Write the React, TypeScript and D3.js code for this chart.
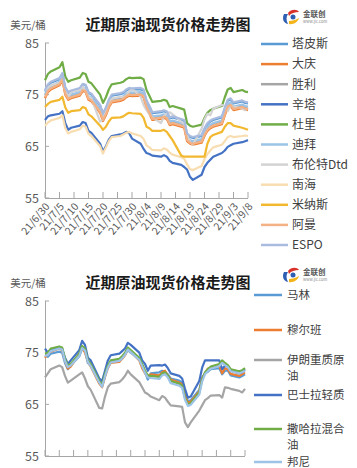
import React from "react";
import * as d3 from "d3";

const dates = ["2021-06-30","2021-07-01","2021-07-02","2021-07-05","2021-07-06","2021-07-07","2021-07-08","2021-07-09","2021-07-12","2021-07-13","2021-07-14","2021-07-15","2021-07-16","2021-07-19","2021-07-20","2021-07-21","2021-07-22","2021-07-23","2021-07-26","2021-07-27","2021-07-28","2021-07-29","2021-07-30","2021-08-02","2021-08-03","2021-08-04","2021-08-05","2021-08-06","2021-08-09","2021-08-10","2021-08-11","2021-08-12","2021-08-13","2021-08-16","2021-08-17","2021-08-18","2021-08-19","2021-08-20","2021-08-23","2021-08-24","2021-08-25","2021-08-26","2021-08-27","2021-08-30","2021-08-31","2021-09-01","2021-09-02","2021-09-03","2021-09-06","2021-09-07","2021-09-08"];

const tickLabels = ["21/6/30","21/7/5","21/7/10","21/7/15","21/7/20","21/7/25","21/7/30","21/8/4","21/8/9","21/8/14","21/8/19","21/8/24","21/8/29","21/9/3","21/9/8"];
const yTicks = [55, 65, 75, 85];

// top chart series
const tapis = [75.6,76.6,77.3,78.0,79.0,76.3,75.4,75.6,76.0,77.0,76.8,75.4,75.0,72.9,71.3,72.3,73.8,74.8,75.1,75.3,75.8,76.1,76.0,76.0,75.8,73.7,72.7,71.4,71.6,71.8,71.6,70.4,70.6,70.1,69.9,67.3,66.8,66.6,67.0,68.3,69.3,69.8,70.1,70.6,72.3,73.8,74.1,73.3,73.7,73.4,73.3];
const daqing = [74.3,75.5,76.0,76.8,77.8,75.0,74.0,74.3,74.8,75.7,75.5,74.0,73.7,71.5,69.9,71.0,72.5,73.5,73.8,74.0,74.5,74.8,74.7,74.8,74.5,72.4,71.3,70.1,70.3,70.5,70.3,69.1,69.3,68.8,68.6,66.0,65.5,65.3,65.7,67.0,68.0,68.5,68.8,69.3,71.0,72.5,72.8,72.0,72.4,72.1,72.0];
const shengli = [74.9,75.9,76.5,77.3,78.2,75.5,74.6,74.8,75.3,76.2,76.0,74.5,74.2,72.0,70.5,71.5,73.0,74.0,74.3,74.5,75.0,75.3,75.2,75.3,75.0,72.9,71.8,70.6,70.8,71.0,70.8,69.6,69.8,69.3,69.1,66.5,66.0,65.8,66.2,67.5,68.5,69.0,69.3,69.8,71.5,73.0,73.3,72.5,72.9,72.6,72.5];
const sinta = [70.1,70.8,71.0,71.3,71.8,69.5,68.2,68.6,69.0,69.7,69.5,68.0,67.6,65.5,64.0,65.0,66.3,67.0,67.3,67.5,67.8,67.6,66.5,65.5,64.5,63.7,63.5,63.2,63.0,63.3,63.0,62.2,61.8,61.4,61.0,60.5,59.1,58.5,59.5,61.0,61.8,62.4,63.0,63.7,64.2,64.9,65.2,65.5,65.8,66.0,66.2];
const duri = [77.8,79.0,79.5,80.3,81.3,78.5,77.5,77.8,78.3,79.2,79.0,77.5,77.2,75.0,73.4,74.5,76.0,77.0,77.3,77.5,78.0,78.3,78.2,78.3,78.0,75.9,74.8,73.6,73.8,74.0,73.8,72.6,72.8,72.3,72.1,69.5,69.0,68.8,69.2,70.5,71.5,72.0,72.3,72.8,74.5,76.0,76.3,75.5,75.9,75.6,75.5];
const dubai = [75.0,76.2,76.7,77.5,78.5,75.7,74.7,75.0,75.5,76.4,76.2,74.7,74.4,72.2,70.6,71.7,73.2,74.2,74.5,74.7,75.2,75.5,75.4,75.5,75.2,73.1,72.0,70.8,71.0,71.2,71.0,69.8,70.0,69.5,69.3,66.7,66.2,66.0,66.4,67.7,68.7,69.2,69.5,70.0,71.7,73.2,73.5,72.7,73.1,72.8,72.7];
const brent = [75.8,76.4,76.8,77.3,78.0,75.8,74.5,75.6,75.9,76.6,75.6,74.6,74.3,69.8,70.2,71.8,73.2,74.2,74.6,74.5,74.8,75.6,76.2,74.6,73.0,72.0,71.2,70.6,69.5,70.8,71.4,71.6,71.2,69.8,69.4,67.2,65.8,65.3,68.4,70.2,71.3,71.0,72.3,73.0,72.8,71.8,72.9,72.7,72.3,72.0,72.4];
const nanhai = [69.0,69.6,70.0,70.5,71.0,68.5,67.5,67.8,68.3,69.0,68.8,67.4,67.0,65.0,63.6,64.8,66.0,66.8,67.0,67.3,67.6,67.8,67.5,67.0,66.4,65.2,64.8,64.3,64.2,64.6,64.4,63.8,63.4,62.9,62.6,61.5,60.6,60.4,61.2,62.5,63.5,64.2,64.8,65.3,66.0,66.8,67.0,66.8,67.0,67.1,67.0];
const minas = [72.6,73.2,73.6,74.0,74.6,72.5,71.5,71.8,72.0,72.6,72.4,71.2,70.8,69.0,68.2,68.8,69.8,70.5,70.6,70.8,71.2,71.5,71.4,71.3,70.5,68.8,68.5,68.0,68.0,68.2,67.8,67.0,66.2,63.2,63.0,63.0,63.0,63.0,63.0,63.0,65.5,66.8,67.2,67.8,68.8,69.5,69.5,69.0,68.6,68.4,68.2];
const oman = [74.5,75.7,76.2,77.0,78.0,75.2,74.2,74.5,75.0,75.9,75.7,74.2,73.9,71.7,70.1,71.2,72.7,73.7,74.0,74.2,74.7,75.0,74.9,75.0,74.7,72.6,71.5,70.3,70.5,70.7,70.5,69.3,69.5,69.0,68.8,66.2,65.7,65.5,65.9,67.2,68.2,68.7,69.0,69.5,71.2,72.7,73.0,72.2,72.6,72.3,72.2];
const espo = [75.9,77.0,77.5,78.2,79.2,76.4,75.5,75.8,76.3,77.1,76.9,75.5,75.2,73.0,71.4,72.5,74.0,75.0,75.3,75.5,76.0,76.3,76.2,76.3,76.0,73.9,72.8,71.6,71.8,72.0,71.8,70.6,70.8,70.3,70.1,67.5,67.0,66.8,67.2,68.5,69.5,70.0,70.3,70.8,72.5,74.0,74.3,73.5,73.9,73.6,73.5];

// bottom chart series
const marine = [74.5,74.2,74.8,75.2,75.0,73.0,71.8,72.5,74.3,75.8,75.3,73.0,72.5,69.3,68.6,70.5,72.3,73.3,73.5,74.0,74.6,75.5,75.0,73.8,72.5,71.2,69.8,71.0,71.2,71.5,71.3,70.8,70.0,69.6,69.2,67.0,65.6,65.8,67.8,70.2,71.0,71.3,71.8,72.0,70.8,71.5,71.5,70.6,70.2,70.5,70.8];
const murban = [74.0,74.8,75.2,75.8,75.5,73.5,71.9,72.3,74.8,76.0,75.0,73.3,72.3,69.0,68.3,70.3,72.0,73.0,73.2,73.8,74.5,75.8,75.2,73.5,72.0,71.0,70.5,70.8,70.6,71.2,71.5,70.5,69.8,69.2,68.9,66.8,65.3,65.5,67.5,70.0,71.0,71.9,72.0,72.5,71.0,72.0,71.8,70.9,70.5,70.8,71.2];
const iranHeavy = [70.2,71.0,71.8,72.5,72.2,70.5,69.2,69.6,70.8,71.2,70.0,68.5,67.8,64.3,64.2,66.5,68.3,69.0,69.3,69.8,70.5,71.5,70.8,69.3,68.3,67.3,67.0,66.5,65.8,66.6,66.3,65.5,64.8,64.6,64.5,61.5,60.6,61.5,63.8,64.8,65.8,66.2,66.7,66.8,66.3,68.3,68.2,68.0,67.6,67.3,68.0];
const basrah = [75.8,75.0,75.5,76.0,75.8,74.0,72.8,73.5,75.5,77.3,76.5,74.0,73.5,70.0,69.5,71.5,73.5,74.5,74.8,75.3,75.8,76.9,76.5,75.0,73.5,72.8,71.5,72.5,72.6,72.5,72.7,72.0,71.0,70.5,70.0,68.0,66.3,66.5,69.5,72.1,73.5,73.5,73.5,73.5,71.8,72.5,72.3,71.5,71.0,71.2,71.8];
const saharan = [74.8,75.0,75.8,76.2,76.0,73.8,72.5,72.8,74.8,76.3,75.8,73.5,72.8,69.5,68.8,70.8,72.5,73.5,73.8,74.3,75.0,76.0,75.5,74.0,72.8,71.5,70.6,70.5,70.3,71.0,71.2,70.6,69.5,69.0,68.6,66.3,65.0,65.2,67.3,69.8,71.2,71.8,72.3,72.8,73.5,73.0,72.6,71.8,71.4,71.6,72.0];
const bonny = [74.3,74.6,75.3,75.8,75.6,73.4,72.2,72.5,74.4,75.9,75.4,73.2,72.4,69.2,68.4,70.4,72.1,73.1,73.4,73.9,74.6,75.6,75.1,73.6,72.4,71.1,70.2,70.1,69.9,70.6,70.8,70.2,69.1,68.6,68.2,65.9,64.7,64.9,66.9,69.4,70.8,71.4,71.9,72.4,73.0,72.6,72.2,71.4,71.0,71.2,71.5];

const topNames = ["塔皮斯","大庆","胜利","辛塔","杜里","迪拜","布伦特Dtd","南海","米纳斯","阿曼","ESPO"];
const topValues = [tapis, daqing, shengli, sinta, duri, dubai, brent, nanhai, minas, oman, espo];
const topColors = ["#5B9BD5","#ED7D31","#A5A5A5","#4472C4","#70AD47","#9DC3E6","#D3D3D3","#F8DDB0","#F2B830","#F4B183","#A9BCE0"];

const botNames = [["马林"],["穆尔班"],["伊朗重质原","油"],["巴士拉轻质"],["撒哈拉混合","油"],["邦尼"]];
const botValues = [marine, murban, iranHeavy, basrah, saharan, bonny];
const botColors = ["#5B9BD5","#ED7D31","#A5A5A5","#4472C4","#70AD47","#9DC3E6"];

const FONT = "'Noto Sans CJK SC', 'Liberation Sans', sans-serif";
const parseDate = d3.timeParse("%Y-%m-%d");
const parseTick = d3.timeParse("%y/%m/%d");
const dateObjs = dates.map((d) => parseDate(d) as Date);
const tickDates = tickLabels.map((t) => parseTick(t) as Date);

function Logo({ x, y }: { x: number; y: number }) {
  return (
    <g transform={`translate(${x},${y})`}>
      <path d="M2,5 C0,9 1,14 6,15 C4,11 4,8 6,5 Z" fill="#2F5FB3" />
      <path d="M6,4 C9,0 15,0 17,3 C13,3 9,4 7,7 Z" fill="#D8322B" />
      <path d="M7,15 C11,16 16,13 17,9 C14,11 10,12 7,12 Z" fill="#F2B418" />
      <circle cx={11} cy={8} r={2.5} fill="#2F5FB3" />
      <text x={21} y={8} fontSize={7.5} fontFamily={FONT} fill="#555" fontWeight={700}>金联创</text>
      <text x={21} y={14} fontSize={4} fontFamily={FONT} fill="#888">www.jlc.com</text>
    </g>
  );
}

function Chart({ offY, xEnd, values, colors, showXLabels }: any) {
  const x = d3.scaleTime().domain([tickDates[0], tickDates[tickDates.length - 1]]).range([45, xEnd]);
  const y = d3.scaleLinear().domain([55, 85]).range([198 + offY, 43 + offY]);
  const line = d3.line<number>().x((_, i) => x(dateObjs[i])).y((v) => y(v));
  return (
    <g>
      <text x={28} y={29 + offY} fontSize={10.5} fontFamily={FONT} fill="#595959" textAnchor="middle">美元/桶</text>
      <text x={168} y={30 + offY} fontSize={15} fontWeight={700} fontFamily={FONT} fill="#1a1a1a" textAnchor="middle">近期原油现货价格走势图</text>
      <Logo x={282} y={9 + offY} />
      {yTicks.map((t) => (
        <g key={t}>
          <text x={39} y={y(t) + 4.5} fontSize={12.5} fontFamily={FONT} fill="#595959" textAnchor="end">{t}</text>
          <line x1={45} x2={49} y1={y(t)} y2={y(t)} stroke="#A6A6A6" />
        </g>
      ))}
      <line x1={45.5} x2={45.5} y1={y(85)} y2={y(55)} stroke="#A6A6A6" />
      <line x1={45} x2={xEnd} y1={y(55) + 0.5} y2={y(55) + 0.5} stroke="#A6A6A6" />
      {tickDates.map((d, i) => (
        <line key={i} x1={x(d)} x2={x(d)} y1={y(55)} y2={y(55) - 6} stroke="#A6A6A6" />
      ))}
      {showXLabels && tickDates.map((d, i) => (
        <text key={i} transform={`translate(${x(d) + 3},${y(55) + 7}) rotate(-50)`} fontSize={10.5} fontFamily={FONT} fill="#595959" textAnchor="end" dominantBaseline="middle">{tickLabels[i]}</text>
      ))}
      {values.map((vals: number[], i: number) => (
        <path key={i} d={line(vals) || ""} fill="none" stroke={colors[i]} strokeWidth={2.2} strokeLinejoin="round" />
      ))}
    </g>
  );
}

export default function App() {
  return (
    <svg width={357} height={468} style={{ position: "absolute", left: 0, top: 0, background: "#fff" }}>
      <rect width={357} height={468} fill="#fff" />
      <Chart offY={0} xEnd={248} values={topValues} colors={topColors} showXLabels={true} />
      <Chart offY={258} xEnd={245} values={botValues} colors={botColors} showXLabels={false} />
      {topNames.map((n, i) => {
        const yy = 44 + i * 20.1;
        return (
          <g key={n}>
            <line x1={261} x2={288} y1={yy} y2={yy} stroke={topColors[i]} strokeWidth={2.5} />
            <text x={292} y={yy + 4.3} fontSize={12} fontFamily={FONT} fill="#404040">{n}</text>
          </g>
        );
      })}
      {botNames.map((n, i) => {
        const ys = [295, 330, 360, 395, 429, 462];
        const yy = ys[i];
        return (
          <g key={i}>
            <line x1={254} x2={282} y1={yy} y2={yy} stroke={botColors[i]} strokeWidth={2.5} />
            {n.map((part: string, j: number) => (
              <text key={j} x={287} y={yy + 4.3 + j * 15.5} fontSize={11.5} fontFamily={FONT} fill="#404040">{part}</text>
            ))}
          </g>
        );
      })}
    </svg>
  );
}
